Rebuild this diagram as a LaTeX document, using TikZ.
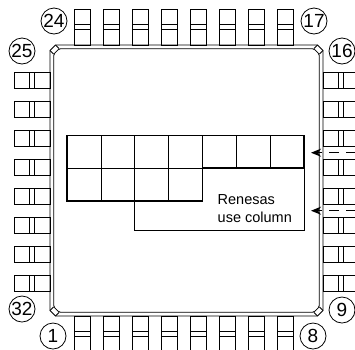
\documentclass[tikz,border=0pt]{standalone}
\usepackage{fontspec}
\setmainfont{Liberation Sans}
\usetikzlibrary{arrows.meta}
\begin{document}
\begin{tikzpicture}[x=1pt,y=-1pt,line width=0.8pt,
    pinnum/.style={draw,circle,minimum size=26pt,inner sep=0pt,font=\fontsize{19}{21}\selectfont},
    cellline/.style={line width=0.7pt},
    rimline/.style={line width=1.7pt},
    hint/.style={dash pattern=on 10pt off 7pt,line width=1.3pt,-{Stealth[length=10pt,width=8pt,inset=3pt]}}]
        \useasboundingbox (0,0) rectangle (355,349);
        \clip (0,0) rectangle (355,349);
        \foreach \i in {0,...,7} {
            \draw (74+29*\i,9.5) rectangle +(16,35.5) (74+29*\i,24.5) -- +(16,0) (74+29*\i,29.5) -- +(16,0);
            \draw (74+29*\i,316) rectangle +(16,35.5) (74+29*\i,331.5) -- +(16,0) (74+29*\i,336.5) -- +(16,0);
            \draw (14.5,72+29*\i) rectangle +(35.5,16) (29,72+29*\i) -- +(0,16) (34,72+29*\i) -- +(0,16);
            \draw (323,72+29*\i) rectangle +(35.5,16) (338,72+29*\i) -- +(0,16) (343,72+29*\i) -- +(0,16);
        }
        \draw (55.5,45) -- (317.5,45) -- (323,50.5) -- (323,310.5) -- (317.5,316) -- (55.5,316) -- (50,310.5) -- (50,50.5) -- cycle;
        \draw[rounded corners=1.5pt] (59.2,48.7) -- (313.8,48.7) -- (319.3,54.2) -- (319.3,306.8) -- (313.8,312.3) -- (59.2,312.3) -- (53.7,306.8) -- (53.7,54.2) -- cycle;
        \draw (55.5,45) -- (59.2,48.7) (50,50.5) -- (53.7,54.2) (317.5,45) -- (313.8,48.7) (323,50.5) -- (319.3,54.2)
            (323,310.5) -- (319.3,306.8) (317.5,316) -- (313.8,312.3) (55.5,316) -- (59.2,312.3) (50,310.5) -- (53.7,306.8);

        \node[pinnum] (p24) at (54,21) {24};
        \node[pinnum] (p17) at (314,21) {17};
        \node[pinnum] (p25) at (22,51) {25};
        \node[pinnum] (p16) at (342,51) {16};
        \node[pinnum] (p32) at (22,309) {32};
        \node[pinnum] (p9) at (342,310) {9};
        \node[pinnum] (p1) at (53,336) {1};
        \node[pinnum] (p8) at (313,336) {8};

        \foreach \i in {0,...,6}
            \draw[cellline] (67+33.9*\i,135.5) rectangle +(33.9,32.8);
        \foreach \i in {0,...,3}
            \draw[cellline] (67+33.9*\i,168.3) rectangle +(33.9,32.8);
        \draw[cellline] (134.8,201.1) -- (134.8,230) -- (304.3,230) -- (304.3,168.3);
        \draw[rimline] (67,135.5) -- (304.3,135.5) -- (304.3,168.3) -- (202.6,168.3) -- (202.6,201.1) -- (67,201.1) -- cycle;
        \node[anchor=west,align=left,inner sep=0pt,font=\fontsize{14.5}{17.5}\selectfont] (use) at (217.3,208.5) {Renesas\\use column};

        \coordinate (in1) at (356,152.7);
        \coordinate (tip1) at (311,152.7);
        \coordinate (in2) at (356,210.7);
        \coordinate (tip2) at (311,210.7);
        \draw[hint] (in1) -- (tip1);
        \draw[hint] (in2) -- (tip2);
    \end{tikzpicture}
\end{document}
